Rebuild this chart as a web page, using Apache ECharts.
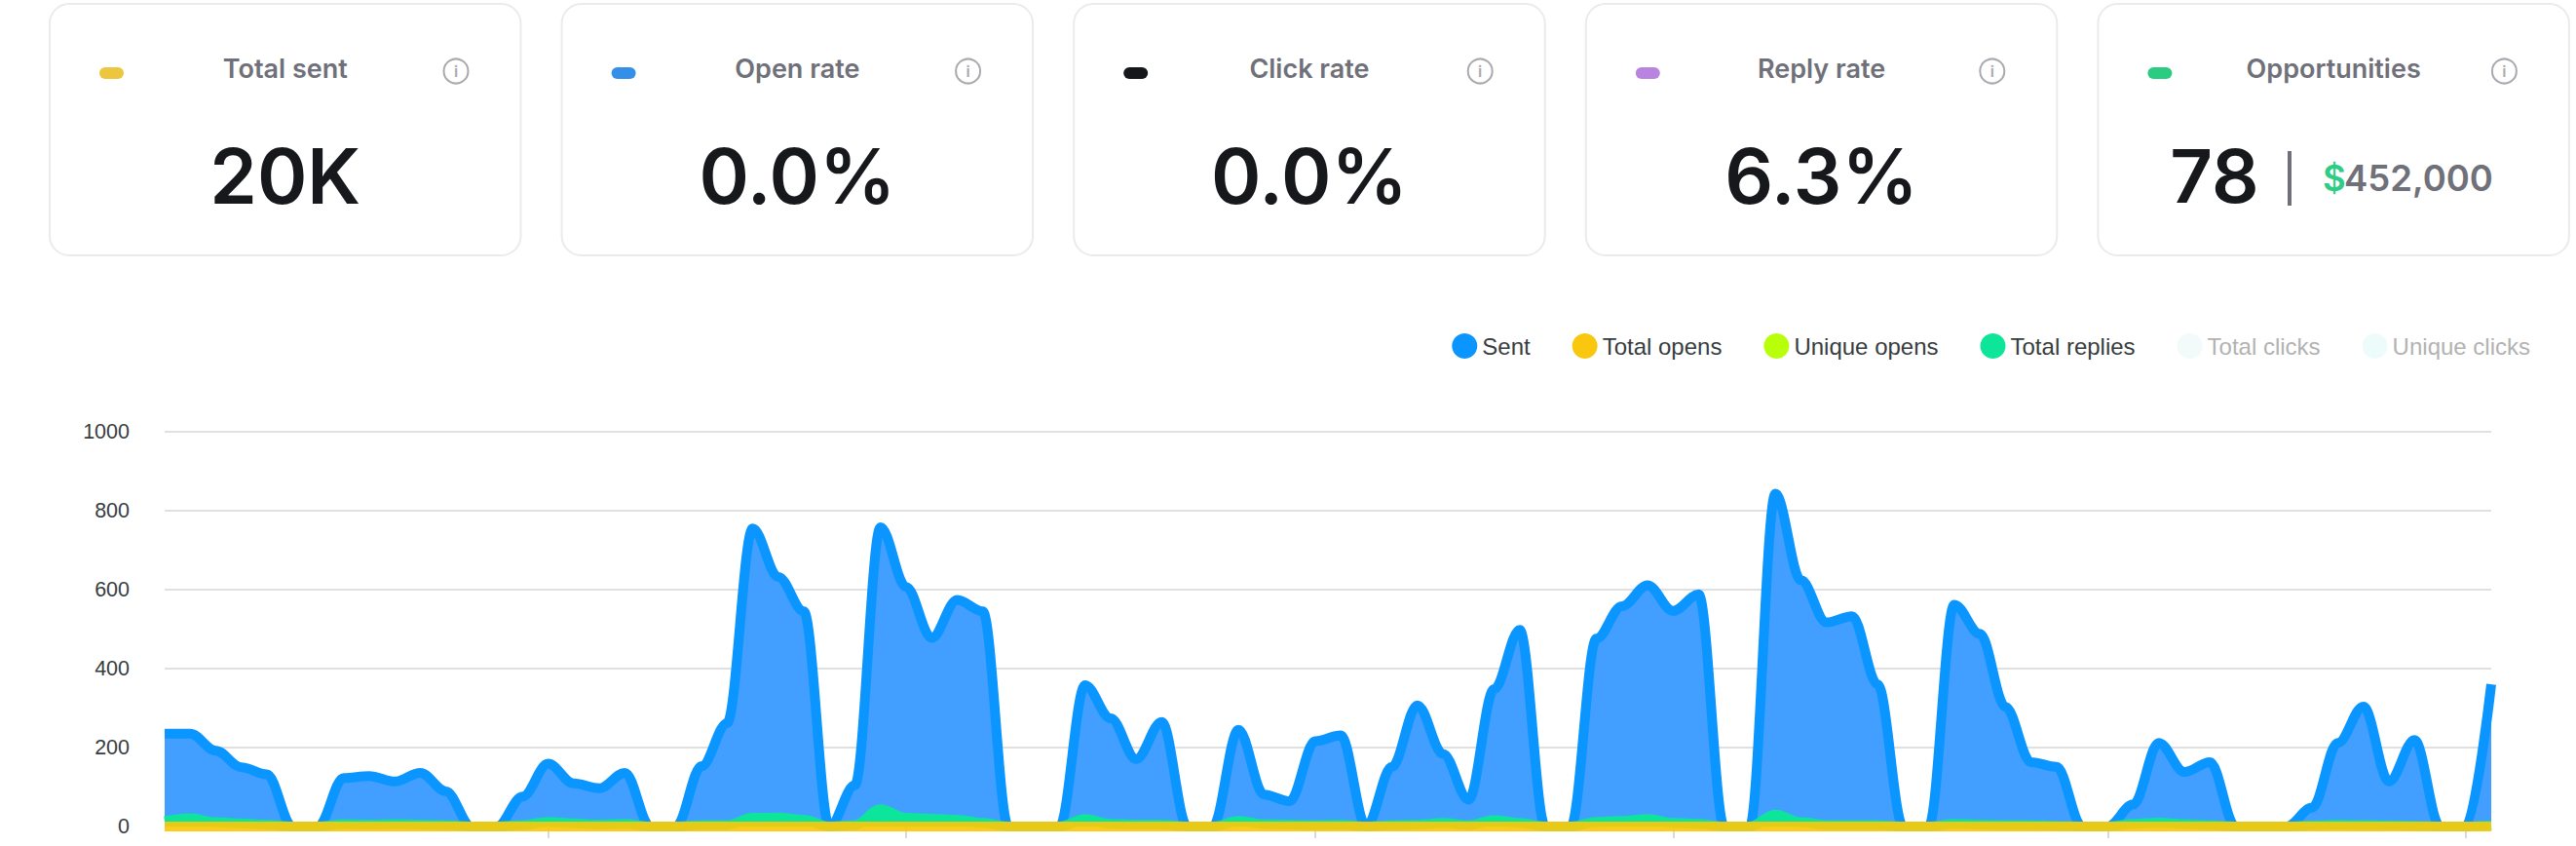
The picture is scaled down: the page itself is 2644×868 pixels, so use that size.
<!DOCTYPE html>
<html><head><meta charset="utf-8">
<style>html,body{margin:0;padding:0;background:#fff}#c{width:2644px;height:868px}</style>
<script src="https://cdn.jsdelivr.net/npm/echarts@6/dist/echarts.min.js"></script>
</head><body><div id="c"></div>
<script>
const cardTitles = ['Total sent','Open rate','Click rate','Reply rate','Opportunities'];
const cardValues = ['20K','0.0%','0.0%','6.3%','78'];
const cardSwatches = ['#EBC63E','#338FE8','#16171B','#B884E0','#2BCB82'];
const opportunityCurrency = '$';
const opportunityAmount = '452,000';
const legendNames = ['Sent','Total opens','Unique opens','Total replies','Total clicks','Unique clicks'];
const yTicks = [0,200,400,600,800,1000];
const tickIndexes = [15,29,45,59,76,90];
const days = [0,1,2,3,4,5,6,7,8,9,10,11,12,13,14,15,16,17,18,19,20,21,22,23,24,25,26,27,28,29,30,31,32,33,34,35,36,37,38,39,40,41,42,43,44,45,46,47,48,49,50,51,52,53,54,55,56,57,58,59,60,61,62,63,64,65,66,67,68,69,70,71,72,73,74,75,76,77,78,79,80,81,82,83,84,85,86,87,88,89,90,91];
const sent = [235,235,192,150,132,0,0,123,128,114,136,89,0,0,76,159,109,97,136,0,0,153,262,755,632,545,0,105,758,607,478,574,545,0,0,0,358,274,171,265,0,0,245,81,64,216,231,0,151,307,184,68,348,498,0,0,476,558,611,546,588,0,0,843,624,517,533,360,0,0,562,488,303,163,151,0,0,56,212,138,163,0,0,0,48,212,304,114,219,0,0,360];
const totalReplies = [14,21,11,8,5,0,0,6,5,6,5,4,0,0,4,12,8,5,7,0,0,4,4,22,23,17,0,4,44,22,20,17,9,0,0,0,19,7,5,5,0,0,14,6,5,4,5,0,4,5,9,4,16,9,0,0,12,14,19,9,7,0,0,30,11,4,4,4,0,0,7,5,4,4,2,0,0,7,10,6,4,0,0,0,3,5,4,3,2,0,0,3];
const totalOpens = [0,0,0,0,0,0,0,0,0,0,0,0,0,0,0,0,0,0,0,0,0,0,0,0,0,0,0,0,0,0,0,0,0,0,0,0,0,0,0,0,0,0,0,0,0,0,0,0,0,0,0,0,0,0,0,0,0,0,0,0,0,0,0,0,0,0,0,0,0,0,0,0,0,0,0,0,0,0,0,0,0,0,0,0,0,0,0,0,0,0,0,0];
const uniqueOpens = [0,0,0,0,0,0,0,0,0,0,0,0,0,0,0,0,0,0,0,0,0,0,0,0,0,0,0,0,0,0,0,0,0,0,0,0,0,0,0,0,0,0,0,0,0,0,0,0,0,0,0,0,0,0,0,0,0,0,0,0,0,0,0,0,0,0,0,0,0,0,0,0,0,0,0,0,0,0,0,0,0,0,0,0,0,0,0,0,0,0,0,0];

const SANS = '"Liberation Sans", Arial, sans-serif';
const CARD_FONT = 'Inter, Lato, sans-serif';
const CARD_W = 483.5, CARD_H = 258, CARD_Y = 4, CARD_PITCH = 525.6, CARD_X0 = 51;
const elements = [];
cardTitles.forEach((title, i) => {
  const x = CARD_X0 + i * CARD_PITCH, cx = x + CARD_W / 2;
  elements.push({type:'rect', shape:{x, y:CARD_Y, width:CARD_W, height:CARD_H, r:20}, style:{fill:'#fff', stroke:'#EAEBEF', lineWidth:2}, silent:true});
  elements.push({type:'rect', shape:{x:x+51, y:69, width:25, height:12, r:6}, style:{fill:cardSwatches[i]}, silent:true});
  elements.push({type:'text', x:cx, y:70, style:{text:title, font:'600 27px '+CARD_FONT, fill:'#6F7079', align:'center', verticalAlign:'middle'}, silent:true});
  elements.push({type:'circle', shape:{cx:x+417, cy:73, r:12.5}, style:{fill:'none', stroke:'#A9A9AF', lineWidth:2}, silent:true});
  elements.push({type:'text', x:x+417, y:73, style:{text:'i', font:'600 16px '+CARD_FONT, fill:'#A9A9AF', align:'center', verticalAlign:'middle'}, silent:true});
  if (i < 4) {
    elements.push({type:'text', x:cx, y:180, style:{text:cardValues[i], font:'600 78px '+CARD_FONT, fill:'#17181C', align:'center', verticalAlign:'middle'}, silent:true});
  } else {
    elements.push({type:'text', x:2273, y:180, style:{text:cardValues[i], font:'600 76px '+CARD_FONT, fill:'#17181C', align:'center', verticalAlign:'middle'}, silent:true});
    elements.push({type:'rect', shape:{x:2348, y:155, width:4, height:56}, style:{fill:'#70707A'}, silent:true});
    elements.push({type:'text', x:2384, y:183, style:{text:opportunityCurrency, font:'600 36.5px '+CARD_FONT, fill:'#2ECC85', align:'left', verticalAlign:'middle'}, silent:true});
    elements.push({type:'text', x:2406, y:183, style:{text:opportunityAmount, font:'600 36.5px '+CARD_FONT, fill:'#6F7079', align:'left', verticalAlign:'middle'}, silent:true});
  }
});
// The reference cuts the strokes off at the right edge of the plot.
elements.push({type:'rect', shape:{x:2558, y:430, width:12, height:430}, style:{fill:'#fff'}, silent:true});

const lineSeries = (name, data, color, z, extra) => Object.assign({
  name, type:'line', data, z, smooth:0.35, smoothMonotone:'x', symbol:'none',
  lineStyle:{color, width:10}, itemStyle:{color}
}, extra || {});

const chart = echarts.init(document.getElementById('c'), null, {renderer:'svg'});
chart.setOption({
  animation:false,
  backgroundColor:'#fff',
  graphic:{elements},
  legend:{
    top:337, right:42, itemWidth:26, itemHeight:26, itemGap:43, icon:'circle', selectedMode:false,
    textStyle:{fontFamily:SANS, fontSize:24, color:'#373D3F'},
    data:legendNames.map((name,i)=> i>=4 ? {name, textStyle:{color:'#B2B2B2'}} : {name})
  },
  grid:{left:169, right:87, top:443, bottom:20, containLabel:false},
  xAxis:{
    type:'category', data:days, boundaryGap:false,
    axisLine:{show:false}, axisLabel:{show:false},
    axisTick:{show:true, length:12, interval:(i)=>tickIndexes.includes(i), lineStyle:{color:'#D9D9D9', width:2}},
    splitLine:{show:false}
  },
  yAxis:{
    type:'value', min:yTicks[0], max:yTicks[yTicks.length-1], interval:200,
    axisLine:{show:false}, axisTick:{show:false},
    axisLabel:{margin:36, fontFamily:SANS, fontSize:21.5, color:'#373D3F', formatter:(v)=>String(v)},
    splitLine:{lineStyle:{color:'#E0E0E0', width:2}}
  },
  series:[
    lineSeries(legendNames[0], sent, '#0A95FF', 2, {areaStyle:{color:'#429FFF', opacity:1}}),
    lineSeries(legendNames[2], uniqueOpens, '#B8FF0A', 3, {lineStyle:{color:'#B8FF0A', width:10, opacity:0.15}}),
    lineSeries(legendNames[3], totalReplies, '#0CE59A', 4, {areaStyle:{color:'#0CE59A', opacity:1}}),
    lineSeries(legendNames[1], totalOpens, '#F9C80E', 5, {lineStyle:{color:'#F9C80E', width:10, opacity:0.93}}),
    {name:legendNames[4], type:'line', data:[], itemStyle:{color:'#F2FAFA'}, lineStyle:{color:'#F2FAFA'}, symbol:'none'},
    {name:legendNames[5], type:'line', data:[], itemStyle:{color:'#EDFBFB'}, lineStyle:{color:'#EDFBFB'}, symbol:'none'}
  ]
});
</script></body></html>
